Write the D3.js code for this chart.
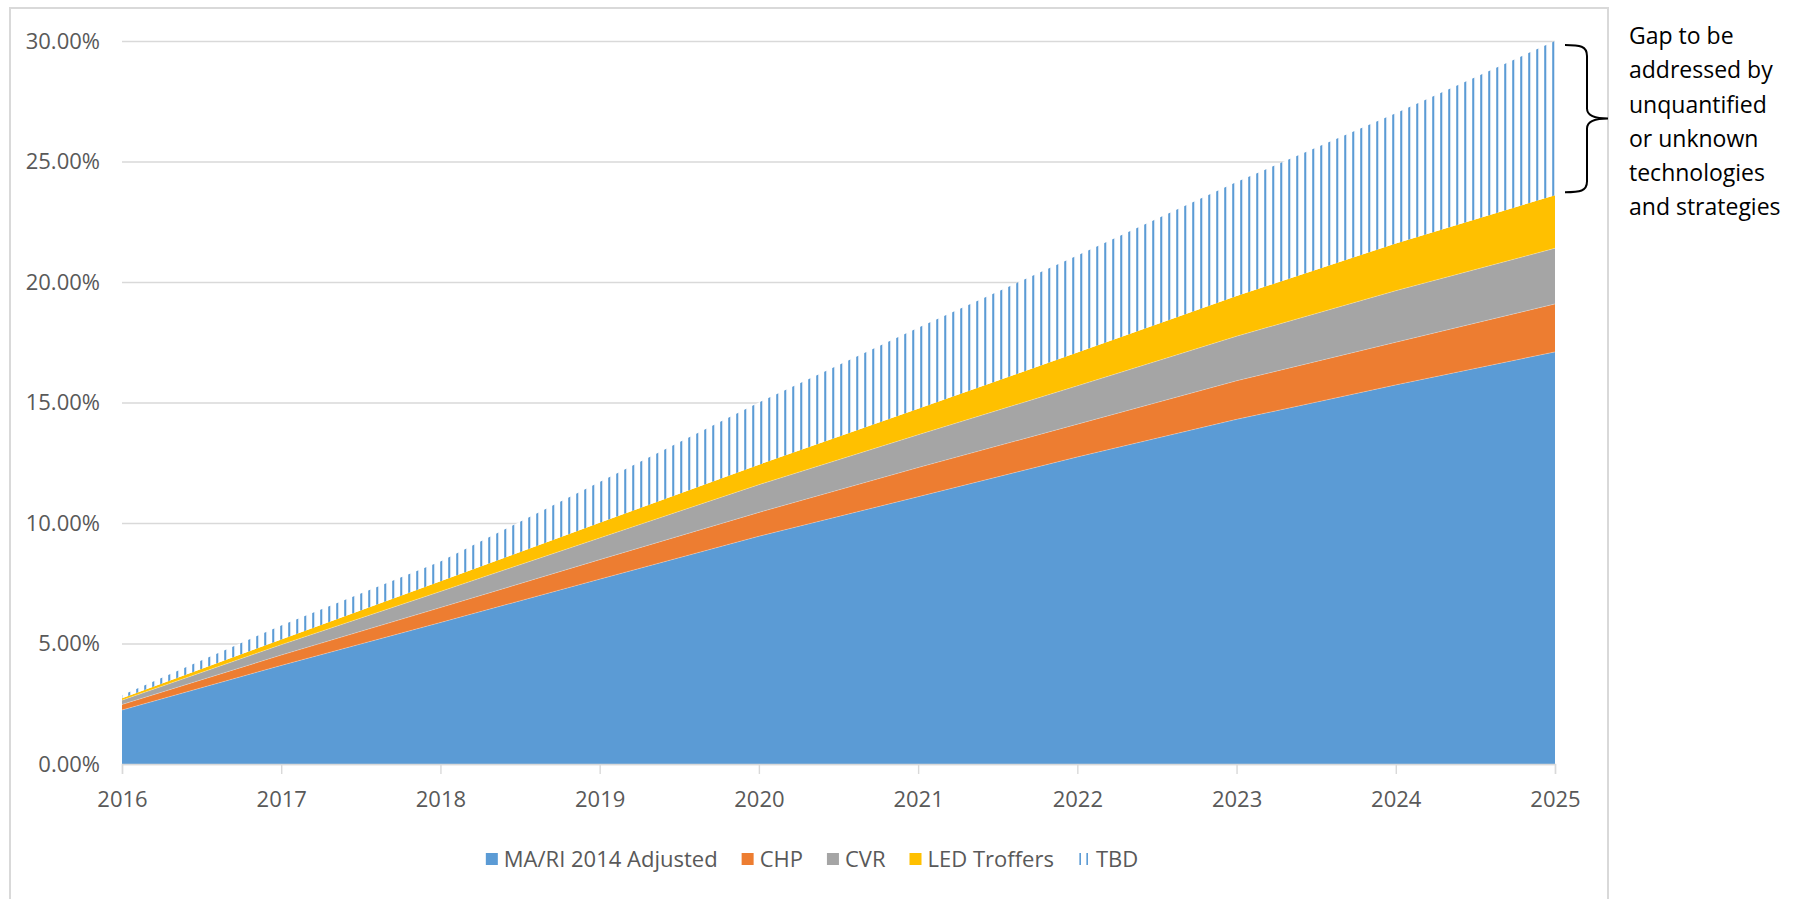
<!DOCTYPE html>
<html>
<head>
<meta charset="utf-8">
<script src="https://cdn.jsdelivr.net/npm/d3@7/dist/d3.min.js"></script>
<style>
  html, body { margin: 0; padding: 0; background: #fff; }
  svg { display: block; }
  text { font-family: "Open Sans", "Liberation Sans", sans-serif; }
</style>
</head>
<body>
<svg id="chart" width="1797" height="899"></svg>
<script>
// Cumulative savings targets, percent of load
const years = [2016, 2017, 2018, 2019, 2020, 2021, 2022, 2023, 2024, 2025];
const maRiAdjusted = [2.24, 4.09, 5.87, 7.67, 9.45, 11.09, 12.74, 14.30, 15.73, 17.10];
const chp          = [0.23, 0.43, 0.62, 0.81, 0.99, 1.21, 1.36, 1.60, 1.77, 1.99];
const cvr          = [0.18, 0.43, 0.67, 0.90, 1.15, 1.36, 1.59, 1.85, 2.14, 2.31];
const ledTroffers  = [0.08, 0.22, 0.42, 0.63, 0.83, 1.08, 1.38, 1.67, 1.96, 2.20];
const tbd          = [0.12, 0.58, 0.82, 1.69, 2.58, 3.36, 4.03, 4.73, 5.40, 6.40];

const seriesNames = ["MA/RI 2014 Adjusted", "CHP", "CVR", "LED Troffers", "TBD"];
const yTicks = [0, 5, 10, 15, 20, 25, 30];
const gapNote = ["Gap to be", "addressed by", "unquantified", "or unknown", "technologies", "and strategies"];

const colors = {
  "MA/RI 2014 Adjusted": "#5b9bd5",
  "CHP": "#ed7d31",
  "CVR": "#a5a5a5",
  "LED Troffers": "#ffc000",
  "TBD": "url(#tbdHatch)"
};

const rows = years.map((yr, i) => ({
  year: yr,
  "MA/RI 2014 Adjusted": maRiAdjusted[i],
  "CHP": chp[i],
  "CVR": cvr[i],
  "LED Troffers": ledTroffers[i],
  "TBD": tbd[i]
}));

const svg = d3.select("#chart");
const plotLeft = 122, plotRight = 1555, plotTop = 41, plotBottom = 764;

const x = d3.scaleLinear().domain([2016, 2025]).range([plotLeft, plotRight]);
const y = d3.scaleLinear().domain([0, 30]).range([plotBottom, plotTop]);

// vertical-line hatch for the unassigned gap, on a white ground
const defs = svg.append("defs");
const pat = defs.append("pattern")
  .attr("id", "tbdHatch")
  .attr("patternUnits", "userSpaceOnUse")
  .attr("x", 0.2).attr("y", 0)
  .attr("width", 8).attr("height", 8);
pat.append("rect").attr("width", 8).attr("height", 8).attr("fill", "#fff");
pat.append("rect").attr("x", 0).attr("width", 2.1).attr("height", 8).attr("fill", "#5b9bd5");

// chart frame
svg.append("rect")
  .attr("x", 10).attr("y", 8)
  .attr("width", 1598).attr("height", 900)
  .attr("fill", "none")
  .attr("stroke", "#d9d9d9")
  .attr("stroke-width", 2);

// gridlines + y labels
const yAxis = svg.append("g")
  .attr("transform", `translate(${plotLeft},0)`)
  .call(d3.axisLeft(y)
    .tickValues(yTicks)
    .tickSize(-(plotRight - plotLeft))
    .tickPadding(22)
    .tickFormat(d => d.toFixed(2) + "%"));
yAxis.select(".domain").remove();
yAxis.selectAll(".tick line").attr("stroke", "#d9d9d9").attr("stroke-width", 1.4);
yAxis.selectAll(".tick text")
  .attr("fill", "#595959")
  .style("font-size", "22px");

// stacked areas
const stacked = d3.stack().keys(seriesNames)(rows);
const area = d3.area()
  .x(d => x(d.data.year))
  .y0(d => y(d[0]))
  .y1(d => y(d[1]));

svg.append("g")
  .selectAll("path")
  .data(stacked)
  .join("path")
  .attr("d", area)
  .attr("fill", d => colors[d.key]);

// faint seams between the solid bands
const seam = d3.line().x(d => x(d.data.year)).y(d => y(d[1]));
svg.append("g")
  .selectAll("path")
  .data(stacked.slice(0, 3))
  .join("path")
  .attr("d", seam)
  .attr("fill", "none")
  .attr("stroke", "#ffffff")
  .attr("stroke-opacity", 0.35)
  .attr("stroke-width", 0.8);

// x axis
const xAxis = svg.append("g")
  .attr("transform", `translate(0,${plotBottom})`)
  .call(d3.axisBottom(x)
    .tickValues(years)
    .tickSize(10)
    .tickPadding(17)
    .tickFormat(d3.format("d")));
xAxis.select(".domain").attr("stroke", "#d9d9d9").attr("stroke-width", 1.4);
xAxis.selectAll(".tick line").attr("stroke", "#d9d9d9").attr("stroke-width", 1.4);
xAxis.selectAll(".tick text")
  .attr("fill", "#595959")
  .style("font-size", "22px");

// legend, centred under the frame
const legend = svg.append("g");
const legendY = 859;
const items = legend.selectAll("g")
  .data(seriesNames)
  .join("g");
items.each(function (name) {
  const g = d3.select(this);
  if (name === "TBD") {
    g.append("rect").attr("x", 1.5).attr("y", legendY - 6).attr("width", 1.6).attr("height", 12).attr("fill", "#5b9bd5");
    g.append("rect").attr("x", 8.5).attr("y", legendY - 6).attr("width", 1.6).attr("height", 12).attr("fill", "#5b9bd5");
  } else {
    g.append("rect")
      .attr("x", 0).attr("y", legendY - 6)
      .attr("width", 12).attr("height", 12)
      .attr("fill", colors[name]);
  }
  g.append("text")
    .attr("x", 18).attr("y", legendY)
    .attr("dy", "0.36em")
    .attr("fill", "#595959")
    .style("font-size", "22px")
    .text(name);
});
const widths = [];
items.each(function () {
  widths.push(18 + d3.select(this).select("text").node().getComputedTextLength());
});
const totalW = d3.sum(widths) + 24 * (widths.length - 1);
let cursor = 812 - totalW / 2;
items.each(function (d, i) {
  d3.select(this).attr("transform", `translate(${cursor},0)`);
  cursor += widths[i] + 24;
});

// brace marking the gap at 2025
const ledTopLast = stacked[3][years.length - 1][1];
const totalLast = stacked[4][years.length - 1][1];
const bTop = y(totalLast) + 4, bBot = y(ledTopLast) - 3, bMid = (bTop + bBot) / 2;
const bx0 = x(2025) + 10, bx1 = bx0 + 22, bTip = bx0 + 43;
svg.append("path")
  .attr("d", `M${bx0},${bTop} C${bx0 + 15},${bTop} ${bx1},${bTop + 1} ${bx1},${bTop + 11}
              L${bx1},${bMid - 10} C${bx1},${bMid - 3} ${bx1 + 9},${bMid} ${bTip},${bMid}
              C${bx1 + 9},${bMid} ${bx1},${bMid + 3} ${bx1},${bMid + 10}
              L${bx1},${bBot - 11} C${bx1},${bBot - 1} ${bx0 + 15},${bBot} ${bx0},${bBot}`)
  .attr("fill", "none")
  .attr("stroke", "#000")
  .attr("stroke-width", 2);

// note beside the brace
svg.append("g")
  .selectAll("text")
  .data(gapNote)
  .join("text")
  .attr("x", 1629)
  .attr("y", (d, i) => 44.3 + i * 34.1)
  .attr("fill", "#000")
  .style("font-size", "23px")
  .text(d => d);
</script>
</body>
</html>
